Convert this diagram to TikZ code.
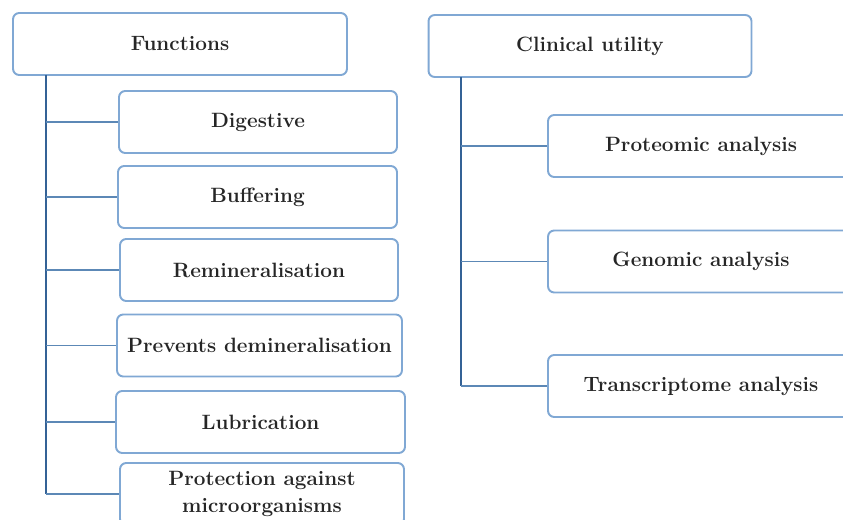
\documentclass[tikz,border=0pt]{standalone}
\usetikzlibrary{positioning}
\definecolor{boxblue}{RGB}{128,168,212}
\definecolor{trunkblue}{RGB}{52,98,150}
\definecolor{linkblue}{RGB}{92,136,182}
\begin{document}
\begin{tikzpicture}[
      x=0.02cm, y=-0.02cm,
      every node/.style={font=\bfseries\fontsize{11.8}{15.3}\selectfont, text=black!85, align=center},
      item/.style={draw=boxblue, line width=1.1pt, rounded corners=3.5pt, fill=white, minimum height=1.24cm, inner sep=0pt},
      trunk/.style={draw=trunkblue, line width=1.6pt},
      link/.style={draw=linkblue, line width=1.1pt}
    ]
      \useasboundingbox (0,0) rectangle (843,520);
      \clip (0,0) rectangle (843,520);
      \node[item, minimum width=6.68cm] (fun) at (180,44) {Functions};
      \node[item, minimum width=6.46cm] (cli) at (590,46) {Clinical utility};
      \node[item, minimum width=5.56cm] (dig) at (258,122) {Digestive};
      \node[item, minimum width=5.58cm] (buf) at (257.5,197) {Buffering};
      \node[item, minimum width=5.56cm] (rem) at (259,270) {Remineralisation};
      \node[item, minimum width=5.70cm] (prev) at (259.5,345.5) {Prevents demineralisation};
      \node[item, minimum width=5.78cm] (lub) at (260.5,422) {Lubrication};
      \node[item, minimum width=5.68cm] (prot) at (262,494) {Protection against\\microorganisms};
      \node[item, minimum width=6.12cm] (prote) at (701,146) {Proteomic analysis};
      \node[item, minimum width=6.12cm] (geno) at (701,261.5) {Genomic analysis};
      \node[item, minimum width=6.12cm] (trans) at (701,386) {Transcriptome analysis};
      \coordinate (ftop) at (46,75);
      \coordinate (ctop) at (461,77);
      \draw[trunk] (ftop) -- (prot.west -| ftop);
      \draw[trunk] (ctop) -- (trans.west -| ctop);
      \foreach \n in {dig,buf,rem,prev,lub,prot}
        \draw[link] (\n.west -| ftop) -- (\n.west);
      \foreach \n in {prote,geno,trans}
        \draw[link] (\n.west -| ctop) -- (\n.west);
    \end{tikzpicture}
\end{document}
